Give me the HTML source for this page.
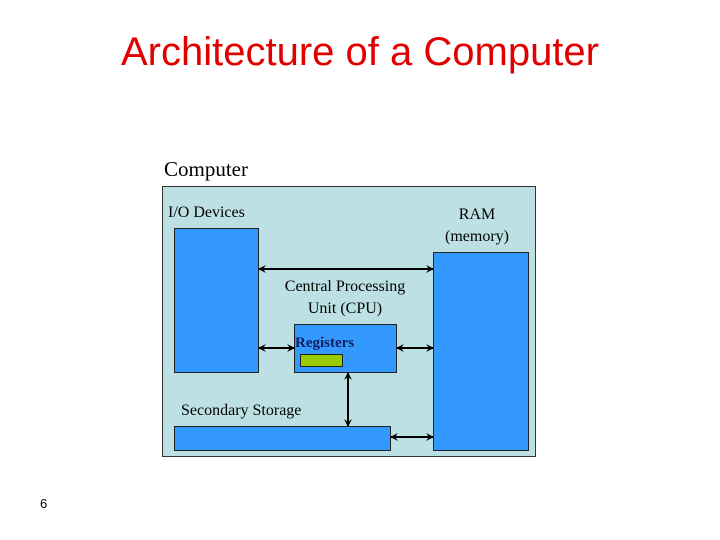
<!DOCTYPE html>
<html><head><style>
body{margin:0;width:720px;height:540px;background:#fff;position:relative;overflow:hidden}
.t{position:absolute;font-family:"Liberation Serif",serif;font-size:16px;color:#000;white-space:nowrap}
.b{position:absolute;background:#3399ff;border:1px solid #222;box-sizing:border-box}
</style></head><body>
<div style="position:absolute;left:0;top:30px;width:720px;text-align:center;font-family:'Liberation Sans',sans-serif;font-size:40px;color:#e00000">Architecture of a Computer</div>
<div class="t" style="left:164px;top:157px;font-size:21px">Computer</div>
<div style="position:absolute;left:162px;top:186px;width:374px;height:271px;background:#bde0e4;border:1px solid #333;box-sizing:border-box"></div>
<div class="b" style="left:174px;top:228px;width:85px;height:145px"></div>
<div class="b" style="left:433px;top:252px;width:96px;height:199px"></div>
<div class="b" style="left:294px;top:324px;width:103px;height:49px"></div>
<div style="position:absolute;left:300px;top:354px;width:43px;height:13px;background:#99cc00;border:1px solid #222;box-sizing:border-box"></div>
<div class="b" style="left:174px;top:426px;width:217px;height:25px"></div>
<div class="t" style="left:168px;top:204px">I/O Devices</div>
<div class="t" style="left:440px;top:204px;text-align:center;width:74px;line-height:22px">RAM<br>(memory)</div>
<div class="t" style="left:270px;top:276px;width:150px;text-align:center;line-height:22px">Central Processing<br>Unit (CPU)</div>
<div class="t" style="left:295px;top:335px;font-size:15px;font-weight:bold;color:#102060">Registers</div>
<div class="t" style="left:181px;top:402px">Secondary Storage</div>
<div style="position:absolute;left:40px;top:496px;font-family:'Liberation Sans',sans-serif;font-size:13px">6</div>
<svg width="720" height="540" style="position:absolute;left:0;top:0">
<defs><marker id="a" markerWidth="8" markerHeight="8" refX="7" refY="4" orient="auto-start-reverse" markerUnits="userSpaceOnUse"><path d="M0,0 L8,4 L0,8 L3,4z" fill="#000"/></marker></defs>
<g stroke="#000" stroke-width="2" marker-start="url(#a)" marker-end="url(#a)">
<line x1="259" y1="269" x2="433" y2="269"/>
<line x1="259" y1="348" x2="294" y2="348"/>
<line x1="397" y1="348" x2="433" y2="348"/>
<line x1="348" y1="373" x2="348" y2="426"/>
<line x1="391" y1="437" x2="433" y2="437"/>
</g></svg>
</body></html>
